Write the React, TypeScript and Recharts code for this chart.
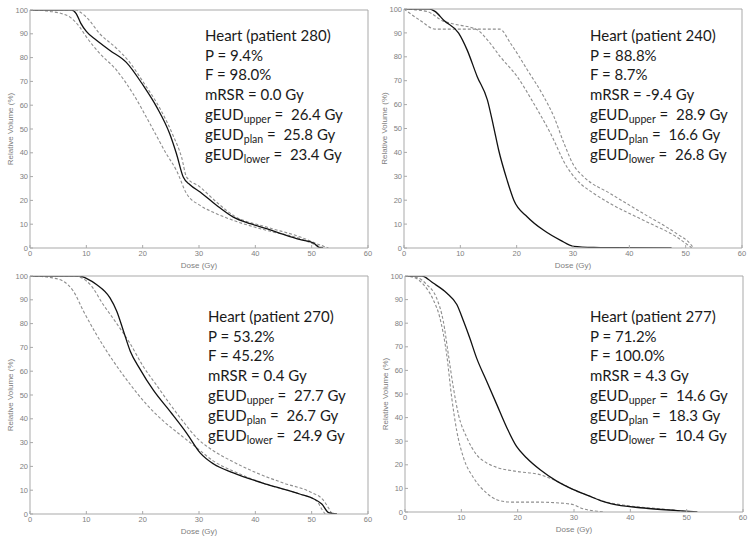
import { LineChart, Line, XAxis, YAxis } from "recharts";

type Pt = [number, number];

const DOSE_TICKS = [0, 10, 20, 30, 40, 50, 60];
const VOLUME_TICKS = [0, 10, 20, 30, 40, 50, 60, 70, 80, 90, 100];

// patient 280: [dose Gy, relative volume %]
const P280_PLAN: Pt[] = [
  [0, 100], [7.4, 100], [8.2, 98.5], [9, 94.5], [10, 91], [11.8, 87.3], [14.2, 83],
  [17.1, 78], [20.1, 68.3], [22.5, 59.2], [24.8, 48], [26, 39.6], [27.2, 29.8],
  [28.4, 26.6], [30.2, 23.5], [33.1, 18], [36.1, 13], [39.1, 10.2], [42, 8.1],
  [45, 5.7], [48, 3.5], [50.3, 2.1], [51.5, 0.1], [52, 0],
];
const P280_UPPER: Pt[] = [
  [0, 100], [7.9, 100], [10, 97], [12.4, 90], [15.4, 83.8], [17.7, 78], [20.1, 69.7],
  [23.1, 58.5], [25.4, 47.3], [26.9, 38.2], [27.8, 29.8], [30.2, 25.6], [33.1, 19.3],
  [36.1, 13.7], [42, 8.8], [48, 4.6], [50.9, 1.8], [53, 0],
];
const P280_LOWER: Pt[] = [
  [0, 100], [2, 99.9], [3.5, 99.4], [5.3, 98.7], [7.1, 97], [8.8, 92.9], [10, 88.7],
  [12.4, 81.7], [15.4, 74.6], [18.3, 64.8], [21.3, 52.2], [24.2, 39.6], [26, 32.6],
  [27.8, 22.8], [30.2, 17.9], [33.1, 14.4], [36.1, 11.6], [42, 7.4], [48, 3.9],
  [50.9, 1.1], [52.1, 0],
];

// patient 240
const P240_PLAN: Pt[] = [
  [0, 100], [4.5, 100], [5.5, 99], [7.1, 95.2], [9.7, 89.9], [11.2, 82.9], [13, 71.7],
  [14.8, 62], [15.9, 50.8], [16.8, 41], [18.3, 28.4], [19.5, 20], [21.9, 13],
  [24.8, 7.4], [27.8, 3.2], [30.1, 0.7], [33.7, 0.2], [36.6, 0.1], [47.5, 0],
];
const P240_UPPER: Pt[] = [
  [0, 100], [3, 95], [5.5, 91.6], [17, 91.6], [18.9, 85.7], [21.9, 74.5], [24.8, 63.4],
  [26.6, 55], [28.4, 43.8], [30.1, 34.7], [31.9, 29.8], [36.6, 22.8], [42.5, 14.4],
  [48.4, 6], [50.8, 1.8], [51.4, 0],
];
const P240_LOWER: Pt[] = [
  [0, 100], [4, 99], [7.1, 94.8], [8.9, 93.7], [13, 91.3], [14.8, 87.1], [17.1, 80],
  [20.1, 71.7], [23, 60.6], [26, 48], [28.9, 34], [30.7, 28.4], [33.7, 22.8],
  [36.6, 18.6], [42.5, 11.6], [48.4, 4.6], [51.1, 0],
];

// patient 270
const P270_PLAN: Pt[] = [
  [0, 100], [8.9, 100], [10, 99], [11.8, 96.4], [14.2, 90.8], [15.4, 85.2], [16.6, 76.8],
  [17.8, 68.4], [19.5, 61], [21.9, 52], [24.9, 43], [27.8, 34], [30.2, 25.7],
  [32.6, 21], [36.1, 17.3], [42.1, 12.4], [48, 8.3], [50.4, 6.3], [51.8, 4.2],
  [53, 0.6], [54.5, 0],
];
const P270_UPPER: Pt[] = [
  [0, 100], [7.8, 100], [10.7, 96.4], [13, 88], [15.4, 80], [17.8, 71.5], [20.1, 62],
  [22.5, 54], [24.9, 46], [27.3, 38.5], [29.6, 32], [32.6, 26.5], [35.6, 22.5],
  [40, 17.5], [45, 13], [50, 9], [52, 6], [53, 2.5], [53.6, 0],
];
const P270_LOWER: Pt[] = [
  [0, 100], [2, 99.8], [4, 99.2], [5.9, 97.8], [7.7, 93.6], [9.5, 85.2], [11.8, 75.4],
  [14.8, 64.2], [17.8, 54.4], [20.7, 46], [23.7, 39], [26.6, 33.4], [29.6, 27.8],
  [32.6, 22.2], [36.1, 18], [42.1, 12.4], [48, 8.3], [50.9, 5.5], [51.8, 2], [52.4, 0],
];

// patient 277
const P277_PLAN: Pt[] = [
  [0, 100], [3, 100], [5, 97], [7.4, 92.8], [9.2, 87.9], [10.4, 80.8], [11.5, 73.7],
  [12.7, 65.3], [14.5, 55.4], [16.3, 45.5], [18.1, 35.6], [19.8, 27.8], [21.6, 22.9],
  [24, 17.9], [27, 13], [29.9, 9.5], [32.9, 6.6], [34.7, 4.8], [36.5, 3.5],
  [42.4, 1.7], [48.3, 0.6], [51.9, 0],
];
const P277_UPPER: Pt[] = [
  [0, 100], [2.1, 99.4], [3.9, 96.3], [5.6, 90.7], [6.8, 80.8], [7.7, 66.7], [8.6, 52.5],
  [9.5, 41.2], [11, 31.4], [12.7, 24.3], [14.5, 20.8], [16.3, 18.9], [19.8, 17.2],
  [24, 15.8], [27, 13], [29.9, 9.5], [32.9, 6.6], [35.3, 4.5], [39.5, 2.7],
  [45.4, 1.3], [50.1, 0.2], [51.3, 0],
];
const P277_LOWER: Pt[] = [
  [0, 100], [1.5, 99.5], [3.3, 96.3], [5, 90], [6.2, 82.2], [7.4, 66.7], [8.3, 48.3],
  [9.2, 34.2], [10.4, 22.9], [12.2, 14.4], [14.5, 8], [16.3, 5.2], [18.7, 4.2],
  [22.8, 4.2], [27.5, 3.8], [29.9, 3.1], [31.2, 1.7], [34.1, 0.3], [35.3, 0],
];

const PATIENTS = ["280", "240", "270", "277"];
const P_VALUES = ["9.4%", "88.8%", "53.2%", "71.2%"];
const F_VALUES = ["98.0%", "8.7%", "45.2%", "100.0%"];
const MRSR_VALUES = ["0.0", "-9.4", "0.4", "4.3"];
const GEUD_UPPER = ["26.4", "28.9", "27.7", "14.6"];
const GEUD_PLAN = ["25.8", "16.6", "26.7", "18.3"];
const GEUD_LOWER = ["23.4", "26.8", "24.9", "10.4"];

const SERIES = [
  [P280_PLAN, P280_UPPER, P280_LOWER],
  [P240_PLAN, P240_UPPER, P240_LOWER],
  [P270_PLAN, P270_UPPER, P270_LOWER],
  [P277_PLAN, P277_UPPER, P277_LOWER],
];

// layout of each panel (plot box edges inside a 377x271 cell, text anchor)
const LAYOUT = [
  { x: 0, y: 0, left: 30, right: 9, top: 10, bottom: 23, tx: 205, ty: 40.7 },
  { x: 377, y: 0, left: 27, right: 12, top: 9, bottom: 23, tx: 213, ty: 40.7 },
  { x: 0, y: 271, left: 30, right: 9, top: 5, bottom: 28, tx: 208, ty: 50.7 },
  { x: 377, y: 271, left: 28, right: 11, top: 5, bottom: 30, tx: 213, ty: 50.7 },
];

const FRAME = "#a9a9a9";
const TICK_TEXT = "#808080";
const AXIS_FONT = "'Liberation Sans', Arial, sans-serif";
const NOTE_FONT = "Lato, 'Open Sans', sans-serif";

const toRows = (pts: Pt[]) => pts.map(([d, v]) => ({ d, v }));

function Note({ i, tx, ty }: { i: number; tx: number; ty: number }) {
  const lh = 19.8;
  const plain = [
    `Heart (patient ${PATIENTS[i]})`,
    `P = ${P_VALUES[i]}`,
    `F = ${F_VALUES[i]}`,
    `mRSR = ${MRSR_VALUES[i]} Gy`,
  ];
  const sub: [string, string][] = [
    ["upper", GEUD_UPPER[i]],
    ["plan", GEUD_PLAN[i]],
    ["lower", GEUD_LOWER[i]],
  ];
  return (
    <svg
      width={377}
      height={271}
      style={{ position: "absolute", left: 0, top: 0, pointerEvents: "none" }}
    >
      <g fontFamily={NOTE_FONT} fontSize={15} fill="#1a1a1a">
        {plain.map((t, k) => (
          <text key={t} x={tx} y={ty + k * lh}>
            {t}
          </text>
        ))}
        {sub.map(([s, val], k) => (
          <text
            key={s}
            x={tx}
            y={ty + (k + 4) * lh}
            xmlSpace="preserve"
            style={{ whiteSpace: "pre" }}
          >
            gEUD
            <tspan fontSize={10.5} dy={3.5}>
              {s}
            </tspan>
            <tspan dy={-3.5}>{" =\u00a0\u00a0" + val + " Gy"}</tspan>
          </text>
        ))}
      </g>
    </svg>
  );
}

function Panel({ i }: { i: number }) {
  const L = LAYOUT[i];
  const [plan, upper, lower] = SERIES[i];
  const dashed = { stroke: "#8e8e8e", strokeWidth: 1.1, strokeDasharray: "3 2" };
  const tickStyle = { fontSize: 7.5, fill: TICK_TEXT, stroke: "none", fontFamily: AXIS_FONT };
  return (
    <div style={{ position: "absolute", left: L.x, top: L.y, width: 377, height: 271 }}>
      <LineChart
        width={377}
        height={271}
        margin={{ top: L.top - 1, right: L.right - 1, left: 0, bottom: 0 }}
      >
        <XAxis
          xAxisId="b"
          type="number"
          dataKey="d"
          domain={[0, 60]}
          ticks={DOSE_TICKS}
          allowDataOverflow
          height={L.bottom}
          stroke={FRAME}
          tickSize={-3}
          tickMargin={6}
          tick={tickStyle}
          label={{
            value: "Dose (Gy)",
            position: "insideTop",
            offset: 14,
            fontSize: 8,
            fill: TICK_TEXT,
            stroke: "none",
            fontFamily: AXIS_FONT,
          }}
        />
        <XAxis
          xAxisId="t"
          orientation="top"
          type="number"
          domain={[0, 60]}
          ticks={DOSE_TICKS}
          allowDataOverflow
          height={1}
          stroke={FRAME}
          tickSize={-3}
          tick={false}
        />
        <YAxis
          yAxisId="l"
          type="number"
          domain={[0, 100]}
          ticks={VOLUME_TICKS}
          allowDataOverflow
          width={L.left}
          stroke={FRAME}
          tickSize={-3}
          tickMargin={5}
          tick={tickStyle}
          label={{
            value: "Relative Volume (%)",
            angle: -90,
            position: "insideLeft",
            offset: L.left - 20,
            fontSize: 8,
            fill: TICK_TEXT,
            stroke: "none",
            fontFamily: AXIS_FONT,
            style: { textAnchor: "middle" },
          }}
        />
        <YAxis
          yAxisId="r"
          orientation="right"
          type="number"
          domain={[0, 100]}
          ticks={VOLUME_TICKS}
          allowDataOverflow
          width={1}
          stroke={FRAME}
          tickSize={-3}
          tick={false}
        />
        <Line
          xAxisId="b"
          yAxisId="l"
          data={toRows(lower)}
          dataKey="v"
          type="monotone"
          dot={false}
          {...dashed}
          isAnimationActive={false}
        />
        <Line
          xAxisId="b"
          yAxisId="l"
          data={toRows(upper)}
          dataKey="v"
          type="monotone"
          dot={false}
          {...dashed}
          isAnimationActive={false}
        />
        <Line
          xAxisId="b"
          yAxisId="l"
          data={toRows(plan)}
          dataKey="v"
          type="monotone"
          dot={false}
          stroke="#111"
          strokeWidth={1.3}
          isAnimationActive={false}
        />
      </LineChart>
      <Note i={i} tx={L.tx} ty={L.ty} />
    </div>
  );
}

export default function App() {
  return (
    <div
      style={{
        position: "absolute",
        left: 0,
        top: 0,
        width: 754,
        height: 542,
        background: "#fff",
      }}
    >
      {PATIENTS.map((p, i) => (
        <Panel key={p} i={i} />
      ))}
    </div>
  );
}
